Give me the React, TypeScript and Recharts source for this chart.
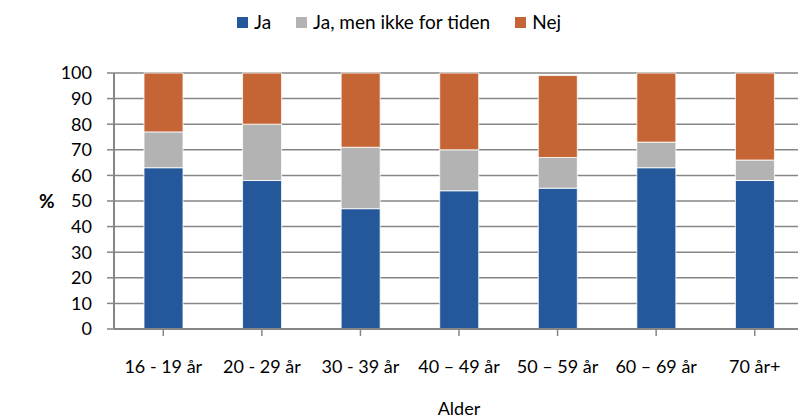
import { BarChart, Bar, XAxis, YAxis, CartesianGrid } from "recharts";

const ageGroups = ["16 - 19 år", "20 - 29 år", "30 - 39 år", "40 – 49 år", "50 – 59 år", "60 – 69 år", "70 år+"];
const ja = [63, 58, 47, 54, 55, 63, 58];
const jaMenIkke = [14, 22, 24, 16, 12, 10, 8];
const nej = [23, 20, 29, 30, 32, 27, 34];
const yTicks = [0, 10, 20, 30, 40, 50, 60, 70, 80, 90, 100];

const series = [
  { key: "ja", name: "Ja", color: "#24589b" },
  { key: "jaMenIkke", name: "Ja, men ikke for tiden", color: "#b3b3b3" },
  { key: "nej", name: "Nej", color: "#c56434" },
];

const data = ageGroups.map((age, i) => ({
  age,
  ja: ja[i],
  jaMenIkke: jaMenIkke[i],
  nej: nej[i],
}));

const FONT = "Lato, 'Open Sans', sans-serif";
const AXIS_GREY = "#868686";

// legend drawn as plain html above the plot, so it doesn't eat into the plot area
function TopLegend() {
  return (
    <div
      style={{
        position: "absolute",
        top: 9,
        left: 0,
        width: 798,
        display: "flex",
        justifyContent: "center",
        fontFamily: FONT,
        fontSize: 19,
        color: "#000",
        lineHeight: "26px",
      }}
    >
      {series.map((s, i) => (
        <div key={s.key} style={{ display: "flex", alignItems: "center", marginRight: i < series.length - 1 ? 25 : 0 }}>
          <span style={{ width: 11, height: 11, background: s.color, display: "inline-block", marginRight: 6 }} />
          <span>{s.name}</span>
        </div>
      ))}
    </div>
  );
}

export default function App() {
  return (
    <div style={{ position: "absolute", left: 0, top: 0, width: 798, height: 419, overflow: "hidden", background: "#fff" }}>
      <TopLegend />
      <BarChart
        width={810}
        height={419}
        data={data}
        barSize={39}
        margin={{ top: 73, right: 6, bottom: 0, left: 0 }}
      >
        <CartesianGrid vertical={false} stroke={AXIS_GREY} strokeWidth={1.5} />
        <XAxis
          dataKey="age"
          height={90}
          tickSize={7}
          tickMargin={24}
          axisLine={{ stroke: AXIS_GREY, strokeWidth: 2 }}
          tickLine={{ stroke: AXIS_GREY, strokeWidth: 1.5 }}
          tick={{ fill: "#000", fontSize: 18, fontFamily: FONT }}
          interval={0}
          label={{ value: "Alder", position: "insideBottom", offset: 4, fill: "#000", fontSize: 18, fontFamily: FONT }}
        />
        <YAxis
          width={114}
          domain={[0, 100]}
          ticks={yTicks}
          interval={0}
          tickSize={7}
          tickMargin={15}
          axisLine={{ stroke: AXIS_GREY, strokeWidth: 2 }}
          tickLine={{ stroke: AXIS_GREY, strokeWidth: 1.5 }}
          tick={{ fill: "#000", fontSize: 18, fontFamily: FONT }}
          label={{ value: "%", position: "insideLeft", offset: 39, fill: "#000", fontSize: 19, fontWeight: "bold", fontFamily: FONT }}
        />
        {series.map((s) => (
          <Bar
            key={s.key}
            dataKey={s.key}
            name={s.name}
            stackId="a"
            fill={s.color}
            stroke="#ffffff"
            strokeWidth={0.8}
            isAnimationActive={false}
          />
        ))}
      </BarChart>
    </div>
  );
}
